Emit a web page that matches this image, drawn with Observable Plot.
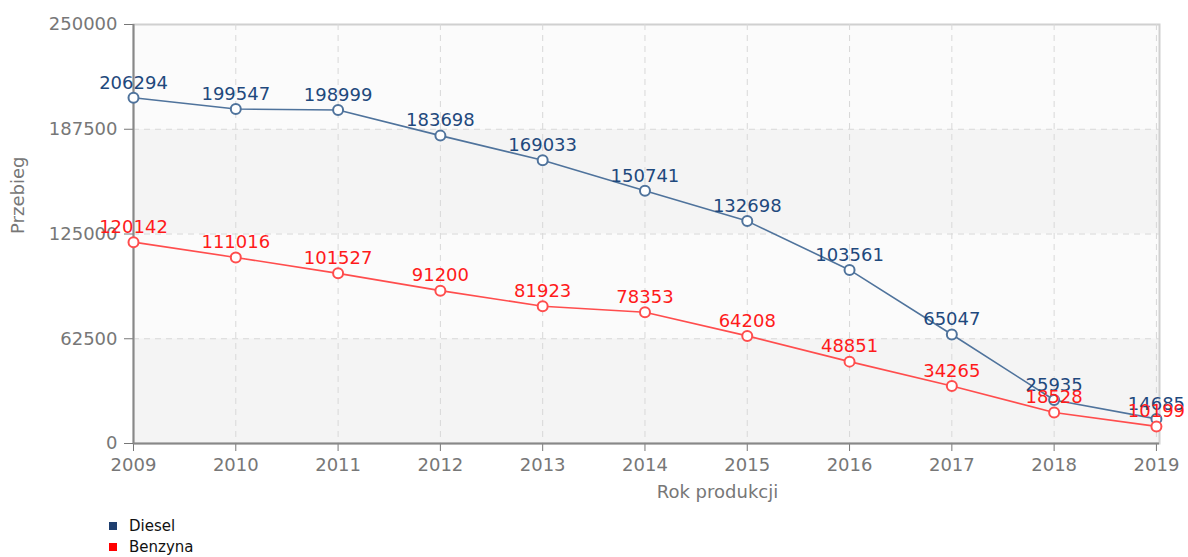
<!DOCTYPE html>
<html>
<head>
<meta charset="utf-8">
<script src="https://cdn.jsdelivr.net/npm/d3@7"></script>
<script src="https://cdn.jsdelivr.net/npm/@observablehq/plot@0.6"></script>
<style>
  html, body { margin: 0; padding: 0; background: #fff; }
  #chart { width: 1188px; }
  .legend { font-family: "DejaVu Sans", sans-serif; font-size: 15px; color: #111; margin-left: 109px; margin-top: 11px; line-height: 21px; }
  .legend .sw { display: inline-block; width: 8px; height: 8px; margin-right: 12px; vertical-align: 1px; }
</style>
</head>
<body>
<div id="chart"></div>
<script>
const years = [2009, 2010, 2011, 2012, 2013, 2014, 2015, 2016, 2017, 2018, 2019];
const diesel = [206294, 199547, 198999, 183698, 169033, 150741, 132698, 103561, 65047, 25935, 14685];
const benzyna = [120142, 111016, 101527, 91200, 81923, 78353, 64208, 48851, 34265, 18528, 10199];
const yTicks = [0, 62500, 125000, 187500, 250000];
const seriesNames = ["Diesel", "Benzyna"];
const lineColors = ["#4f739c", "#ff4d4d"];
const labelColors = ["#1f497d", "#ff1a1a"];
const legendColors = ["#1f3f6f", "#ff0000"];

const rows = [];
years.forEach((yr, i) => {
  rows.push({year: yr, value: diesel[i], series: "Diesel"});
  rows.push({year: yr, value: benzyna[i], series: "Benzyna"});
});
const bands = yTicks.slice(0, -1).map((v, i) => ({y1: v, y2: yTicks[i + 1], fill: i % 2 === 0 ? "#f4f4f4" : "#fbfbfb"}));

const font = "DejaVu Sans, sans-serif";
const chart = Plot.plot({
  width: 1188,
  height: 505,
  marginLeft: 133,
  marginRight: 29,
  marginTop: 24,
  marginBottom: 62,
  style: {fontFamily: font, fontSize: "18px", color: "#666", background: "#fff"},
  x: {domain: [2009, 2019.03], label: null},
  y: {domain: [0, 250000], label: null},
  color: {domain: seriesNames, range: lineColors},
  marks: [
    Plot.rect(bands, {y1: "y1", y2: "y2", fill: "fill"}),
    Plot.frame({stroke: "#d0d0d0", strokeWidth: 2}),
    Plot.gridX(years, {stroke: "#d8d8d8", strokeOpacity: 1, strokeDasharray: "6,5"}),
    Plot.gridY(yTicks.slice(1, -1), {stroke: "#d8d8d8", strokeOpacity: 1, strokeDasharray: "6,5"}),
    Plot.axisX(years, {tickFormat: d => String(d), tickSize: 8, tickPadding: 7, stroke: "#777", fill: "#777", fontSize: 18}),
    Plot.axisY(yTicks, {tickFormat: d => String(d), tickSize: 9, tickPadding: 7, stroke: "#777", fill: "#777", fontSize: 18, label: null}),
    Plot.ruleY([0], {stroke: "#888", strokeWidth: 2}),
    Plot.ruleX([2009], {stroke: "#888", strokeWidth: 2}),
    Plot.text(["Rok produkcji"], {frameAnchor: "bottom", dy: 54, dx: 71, fill: "#777", fontSize: 18}),
    Plot.text(["Przebieg"], {frameAnchor: "left", dx: -115, rotate: -90, fill: "#777", fontSize: 18}),
    Plot.line(rows, {x: "year", y: "value", z: "series", stroke: "series", strokeWidth: 1.6}),
    Plot.dot(rows, {x: "year", y: "value", stroke: "series", fill: "#fff", r: 5, strokeWidth: 2}),
    Plot.text(rows.filter(d => d.series === "Diesel"), {x: "year", y: "value", text: d => String(d.value), dy: -15, fill: labelColors[0], fontSize: 18}),
    Plot.text(rows.filter(d => d.series === "Benzyna"), {x: "year", y: "value", text: d => String(d.value), dy: -15, fill: labelColors[1], fontSize: 18})
  ]
});
document.getElementById("chart").appendChild(chart);

const legend = document.createElement("div");
legend.className = "legend";
seriesNames.forEach((name, i) => {
  const row = document.createElement("div");
  row.innerHTML = `<span class="sw" style="background:${legendColors[i]}"></span>${name}`;
  legend.appendChild(row);
});
document.body.appendChild(legend);
</script>
</body>
</html>
